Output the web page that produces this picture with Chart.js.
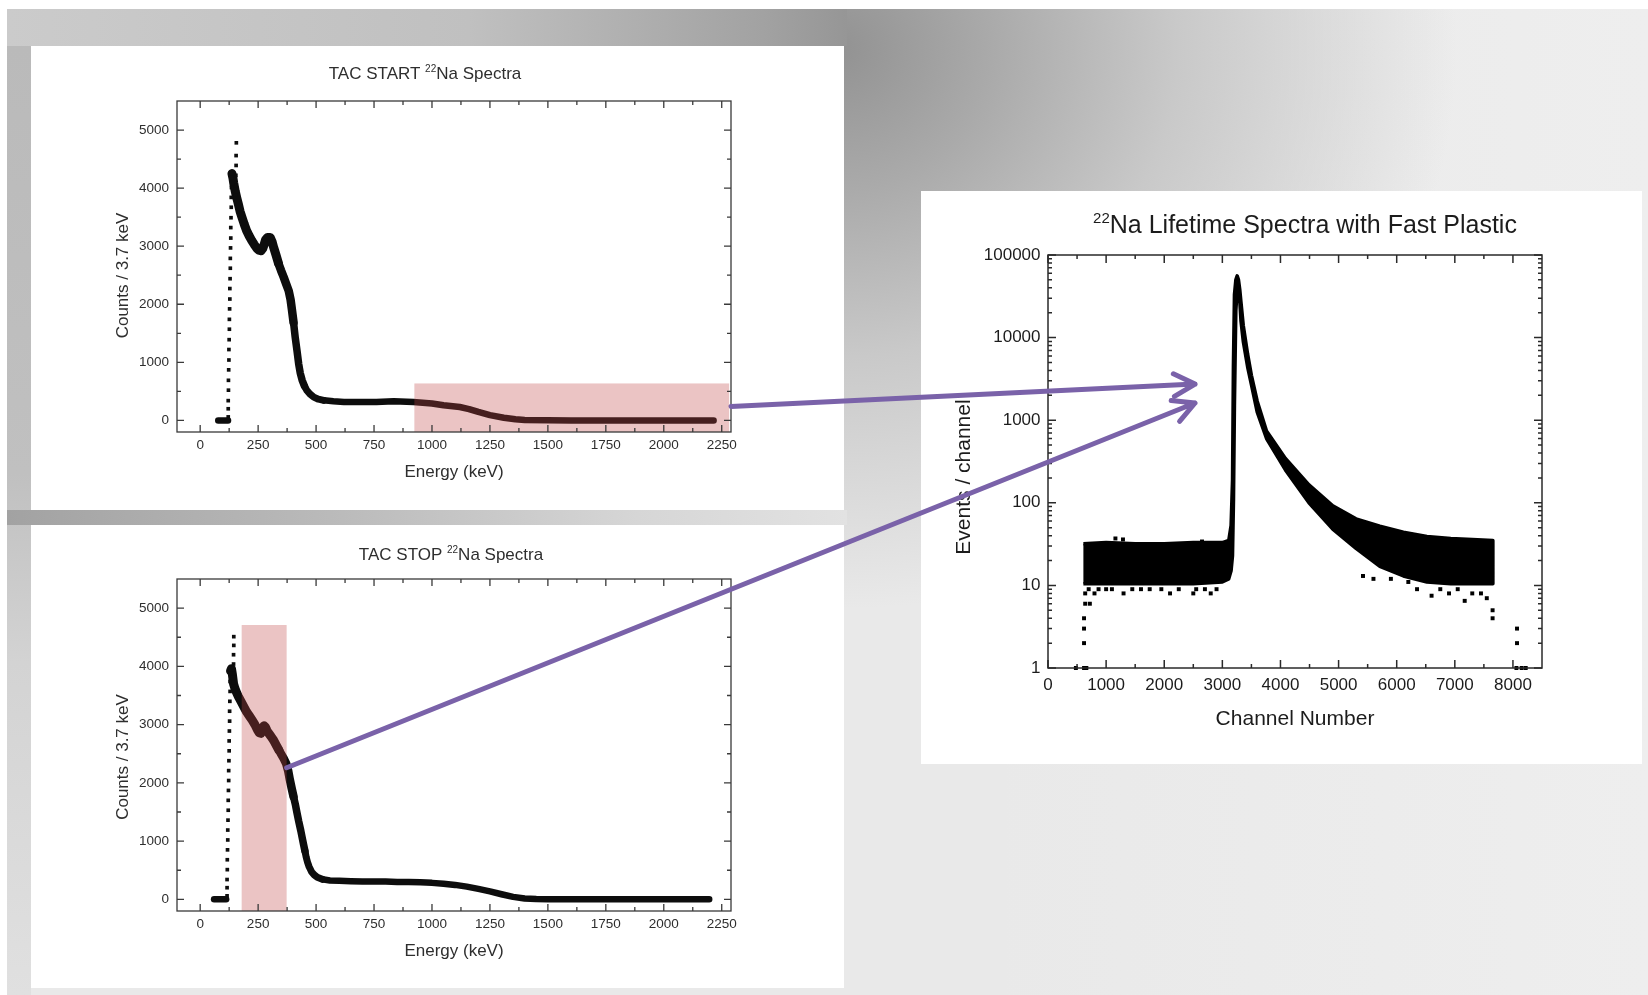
<!DOCTYPE html>
<html>
<head>
<meta charset="utf-8">
<script src="https://cdn.jsdelivr.net/npm/chart.js@4.4.1/dist/chart.umd.min.js"></script>
<style>
html,body{margin:0;padding:0;width:1648px;height:995px;overflow:hidden;background:#fff;position:relative}
.bg{position:absolute}
.panel{position:absolute;background:#fff}
canvas{display:block}
#overlay{position:absolute;left:0;top:0;pointer-events:none}
</style>
</head>
<body>
<div class="bg" style="left:7px;top:9px;width:1641px;height:986px;background:
 radial-gradient(ellipse 620px 560px at 830px 40px, #929292 0%, #aaaaaa 25%, #c9c9c9 55%, rgba(234,234,234,0) 100%),
 linear-gradient(to right, rgba(238,238,238,0) 60%, #eeeeee 100%), #e9e9e9;"></div>
<div class="bg" style="left:7px;top:9px;width:840px;height:37px;background:linear-gradient(to right,#cbcbcb 0%,#c0c0c0 55%,#a2a2a2 90%,#969696 100%);"></div>
<div class="bg" style="left:7px;top:46px;width:24px;height:949px;background:linear-gradient(to bottom,#bababa 0%,#c0c0c0 45%,#d3d3d3 65%,#e0e0e0 100%);"></div>
<div class="bg" style="left:7px;top:510px;width:840px;height:15px;background:linear-gradient(to right,#a2a2a2 0%,#bbbbbb 40%,#d6d6d6 75%,#e2e2e2 100%);"></div>

<div class="panel" id="pStart" style="left:31px;top:46px;width:813px;height:464px"><canvas id="cStart" width="813" height="464"></canvas></div>
<div class="panel" id="pStop" style="left:31px;top:525px;width:813px;height:463px"><canvas id="cStop" width="813" height="463"></canvas></div>
<div class="panel" id="pLife" style="left:921px;top:191px;width:721px;height:573px"><canvas id="cLife" width="721" height="573"></canvas></div>
<canvas id="overlay" width="1648" height="995"></canvas>

<script>
// ---------------- DATA ----------------
const ENERGY_MAJOR = [0,250,500,750,1000,1250,1500,1750,2000,2250];
const ENERGY_MINOR = [125,375,625,875,1125,1375,1625,1875,2125];
const COUNT_MAJOR = [0,1000,2000,3000,4000,5000];
const COUNT_MINOR = [500,1500,2500,3500,4500];
const CHANNEL_MAJOR = [0,1000,2000,3000,4000,5000,6000,7000,8000];
const CHANNEL_MINOR = [500,1500,2500,3500,4500,5500,6500,7500];
const EVENT_MAJOR = [1,10,100,1000,10000,100000];
const EVENT_MINOR = [2,3,4,5,6,7,8,9,20,30,40,50,60,70,80,90,200,300,400,500,600,700,800,900,
  2000,3000,4000,5000,6000,7000,8000,9000,20000,30000,40000,50000,60000,70000,80000,90000];

// TAC START spectrum (keV, counts)
const startFlat = [[78,0],[120,0]];
const startRise = [[121,60],[121,200],[121,340],[122,520],[122,690],[123,870],[124,1040],[124,1220],[125,1390],[126,1570],
  [126,1740],[127,1920],[128,2090],[128,2270],[129,2440],[130,2620],[130,2790],[131,2970],[132,3140],[132,3320],
  [133,3490],[134,3670],[134,3840],[135,4010],[136,4180]];
const startSpike = [[153,3880],[154,4050],[154,4220],[155,4390],[155,4560],[156,4780]];
const startMain = [[137,4250],[141,4180],[145,4080],[151,3950],[158,3830],[165,3720],[172,3600],[180,3500],[190,3380],
  [200,3270],[211,3180],[222,3100],[233,3030],[245,2960],[254,2930],[262,2920],[270,2960],[276,3030],[282,3110],
  [290,3150],[302,3150],[310,3080],[317,2980],[327,2850],[338,2700],[349,2580],[360,2470],[371,2350],[382,2230],
  [390,2080],[396,1900],[403,1680],[410,1430],[418,1190],[425,970],[432,810],[440,690],[450,590],[460,515],
  [475,450],[490,400],[510,365],[533,345],[575,330],[620,318],[700,315],[760,315],[835,330],[920,315],[1000,292],
  [1050,262],[1090,245],[1120,230],[1160,195],[1200,145],[1250,90],[1310,45],[1360,18],[1400,8],[1500,2],[1600,0],[2215,0]];
const startBoxX = [924, 2282];
const startBoxY = [-200, 636];

// TAC STOP spectrum (keV, counts)
const stopFlat = [[60,0],[112,0]];
const stopRise = [[116,60],[116,200],[116,340],[117,510],[117,680],[118,850],[119,1020],[119,1190],[120,1360],[121,1530],
  [121,1700],[122,1870],[123,2040],[123,2210],[124,2380],[125,2550],[125,2720],[126,2890],[127,3060],[127,3230],
  [128,3400],[129,3570],[129,3740],[130,3880]];
const stopSpike = [[143,3720],[143,3880],[144,4040],[144,4200],[145,4360],[145,4510]];
const stopMain = [[131,3920],[135,3960],[139,3860],[144,3700],[150,3620],[158,3540],[165,3480],[176,3400],[188,3310],
  [200,3220],[212,3150],[224,3080],[236,3000],[247,2910],[255,2860],[262,2850],[269,2920],[275,2980],[281,2960],
  [288,2900],[294,2860],[305,2800],[317,2730],[329,2640],[340,2560],[350,2490],[360,2420],[371,2330],[380,2200],
  [387,2050],[395,1900],[403,1760],[410,1640],[418,1480],[425,1340],[434,1180],[440,1060],[446,940],[452,830],
  [457,730],[463,640],[470,560],[481,470],[492,420],[505,380],[527,345],[560,325],[600,318],[650,310],[700,305],
  [750,305],[800,305],[850,300],[900,298],[950,292],[1000,283],[1050,268],[1100,248],[1150,218],[1200,180],
  [1250,138],[1300,88],[1350,42],[1400,14],[1450,4],[1500,1],[1600,0],[2196,0]];
const stopBoxX = [179, 373];
const stopBoxY = [-200, 4710];

// Lifetime spectrum (channel, events) : dense band envelope + isolated points
const lifeUpper = [[609,32],[1000,33],[1500,32],[2000,32],[2500,33],[3000,33],[3110,35],[3150,53],[3175,190],[3190,4500],
  [3208,33000],[3232,50000],[3255,56000],[3278,50000],[3300,38000],[3320,27000],[3360,14000],[3435,6300],[3500,3500],[3600,1700],
  [3760,740],[4085,345],[4490,165],[4900,92],[5300,64],[5710,52],[6115,44],[6520,39],[6930,37],[7300,36],[7655,35]];
const lifeLower = [[609,10.5],[1000,10.5],[1500,10.5],[2000,10.5],[2500,10.5],[3000,11],[3110,12],[3150,15],[3175,23],
  [3192,110],[3208,1500],[3232,21000],[3255,38000],[3280,36000],[3300,28000],[3320,16000],[3360,9000],[3435,4400],
  [3500,2700],[3600,1250],[3760,600],[4085,250],[4490,100],[4900,48],[5300,28],[5710,17],[6115,13],[6520,11],
  [6930,10.5],[7300,10.5],[7655,10.5]];
const lifePoints = [[480,1],[620,1],[660,1],[620,2],[620,3],[620,4],[640,6],[720,6],[640,8],[700,9],[800,8],[870,9],
  [1000,9],[1100,9],[1300,8],[1450,9],[1600,9],[1750,9],[1950,9],[2100,8],[2250,9],[2500,8],[2550,9],[2700,9],
  [2800,8],[2900,9],[1160,37],[1290,36],[2650,34],[5420,13],[5600,12],[5900,12],[6200,11],[6350,9],[6600,7.5],
  [6750,9],[6900,8],[7050,9],[7170,6.5],[7300,8],[7450,8],[7550,7],[7650,5],[7650,4],[8070,3],[8070,2],[8060,1],
  [8150,1],[8220,1],[6900,36],[7000,35],[7350,35]];

// arrow anchors in data units of the charts they touch
const arrowStart1 = [2290, 240];   // TAC START chart
const arrowEnd1 = [2530, 2740];    // lifetime chart
const arrowStart2 = [373, 2260];   // TAC STOP chart
const arrowEnd2 = [2530, 1615];    // lifetime chart

// ---------------- HELPERS ----------------
const FF = '"Liberation Sans", Arial, Helvetica, sans-serif';
const xy = arr => arr.map(p => ({x: p[0], y: p[1]}));

function drawParts(ctx, parts, cx, cy, size, color) {
  let total = 0;
  const fonts = parts.map(p => (p.sup ? Math.round(size * 0.6) : size) + 'px ' + FF);
  const widths = parts.map((p, i) => { ctx.font = fonts[i]; const w = ctx.measureText(p.t).width; total += w; return w; });
  let x = cx - total / 2;
  const base = cy + size * 0.36;
  ctx.fillStyle = color;
  ctx.textAlign = 'left';
  ctx.textBaseline = 'alphabetic';
  parts.forEach((p, i) => {
    ctx.font = fonts[i];
    ctx.fillText(p.t, x, p.sup ? base - size * 0.42 : base);
    x += widths[i];
  });
}

const framePlugin = {
  id: 'frame',
  afterDatasetsDraw(chart, args, o) {
    const ctx = chart.ctx, a = chart.chartArea, sx = chart.scales.x, sy = chart.scales.y;
    ctx.save();
    if (o.boxX) {
      const x0 = sx.getPixelForValue(o.boxX[0]), x1 = sx.getPixelForValue(o.boxX[1]);
      const y0 = sy.getPixelForValue(o.boxY[0]), y1 = sy.getPixelForValue(o.boxY[1]);
      ctx.fillStyle = 'rgba(192,72,72,0.32)';
      ctx.fillRect(Math.min(x0, x1), Math.min(y0, y1), Math.abs(x1 - x0), Math.abs(y1 - y0));
    }
    ctx.strokeStyle = o.color;
    ctx.lineWidth = o.lineWidth;
    ctx.strokeRect(a.left, a.top, a.right - a.left, a.bottom - a.top);
    ctx.beginPath();
    const xt = (vals, len) => vals.forEach(v => {
      const p = sx.getPixelForValue(v);
      ctx.moveTo(p, a.bottom); ctx.lineTo(p, a.bottom - len);
      ctx.moveTo(p, a.top); ctx.lineTo(p, a.top + len);
    });
    const yt = (vals, len) => vals.forEach(v => {
      const p = sy.getPixelForValue(v);
      ctx.moveTo(a.left, p); ctx.lineTo(a.left + len, p);
      ctx.moveTo(a.right, p); ctx.lineTo(a.right - len, p);
    });
    xt(o.xMajor, o.majorLen); xt(o.xMinor, o.minorLen);
    yt(o.yMajor, o.majorLen); yt(o.yMinor, o.minorLen);
    ctx.stroke();
    ctx.restore();
  },
  afterDraw(chart, args, o) {
    const ctx = chart.ctx, a = chart.chartArea;
    const mx = (a.left + a.right) / 2, my = (a.top + a.bottom) / 2;
    ctx.save();
    drawParts(ctx, o.title, mx + o.titleDx, a.top + o.titleDy, o.titleSize, o.textColor);
    drawParts(ctx, [{t: o.xTitle}], mx, a.bottom + o.xTitleDy, o.axisSize, o.textColor);
    ctx.translate(a.left + o.yTitleDx, my + o.yTitleDy);
    ctx.rotate(-Math.PI / 2);
    drawParts(ctx, [{t: o.yTitle}], 0, 0, o.axisSize, o.textColor);
    ctx.restore();
  }
};

function bandWidth(c) {
  const x = c.p0.parsed.x;
  if (x < 330) return 9;
  if (x < 400) return 8.5;
  if (x < 450) return 7.5;
  if (x < 520) return 7;
  return 6.5;
}

function energyChart(id, flat, rise, spike, main, boxX, boxY, layout) {
  const lineDs = (data) => ({type: 'scatter', data: xy(data), showLine: true, pointRadius: 0,
    borderColor: '#0d0d0d', borderWidth: 6.5, borderCapStyle: 'round', borderJoinStyle: 'round', tension: 0});
  const dotDs = (data) => ({type: 'scatter', data: xy(data), showLine: false, pointStyle: 'rect',
    pointRadius: 2.6, backgroundColor: '#0d0d0d', borderWidth: 0});
  const mainDs = lineDs(main);
  mainDs.segment = {borderWidth: bandWidth};
  return new Chart(document.getElementById(id), {
    type: 'scatter',
    data: {datasets: [lineDs(flat), dotDs(rise), dotDs(spike), mainDs]},
    options: {
      responsive: false, animation: false, events: [],
      layout: {padding: {top: layout.top, right: 113, left: 0, bottom: 0}},
      plugins: {
        legend: {display: false}, tooltip: {enabled: false}, title: {display: false},
        frame: {boxX, boxY, color: '#3a3a3a', lineWidth: 1.3,
          xMajor: ENERGY_MAJOR, xMinor: ENERGY_MINOR, yMajor: COUNT_MAJOR, yMinor: COUNT_MINOR,
          majorLen: 7, minorLen: 4, textColor: '#2e2e2e',
          title: layout.title, titleDx: layout.titleDx, titleDy: layout.titleDy, titleSize: 17,
          xTitle: 'Energy (keV)', xTitleDy: 39, yTitle: 'Counts / 3.7 keV', yTitleDx: -55, yTitleDy: layout.yTitleDy,
          axisSize: 17}
      },
      scales: {
        x: {type: 'linear', min: -100, max: 2290,
          afterFit: s => { s.height = layout.xh; },
          afterBuildTicks: s => { s.ticks = ENERGY_MAJOR.map(v => ({value: v})); },
          grid: {display: false, drawTicks: false}, border: {display: false},
          ticks: {autoSkip: false, maxRotation: 0, padding: 5, color: '#2e2e2e',
            font: {family: FF, size: 13.5}, callback: v => String(v)}},
        y: {type: 'linear', min: -200, max: 5500,
          afterFit: s => { s.width = 146; },
          afterBuildTicks: s => { s.ticks = COUNT_MAJOR.map(v => ({value: v})); },
          grid: {display: false, drawTicks: false}, border: {display: false},
          ticks: {autoSkip: false, padding: 8, color: '#2e2e2e',
            font: {family: FF, size: 13.5}, callback: v => String(v)}}
      }
    },
    plugins: [framePlugin]
  });
}

const chStart = energyChart('cStart', startFlat, startRise, startSpike, startMain, startBoxX, startBoxY,
  {top: 55, xh: 78, titleDx: -29, titleDy: -28, yTitleDy: 9,
   title: [{t: 'TAC START '}, {t: '22', sup: true}, {t: 'Na Spectra'}]});
const chStop = energyChart('cStop', stopFlat, stopRise, stopSpike, stopMain, stopBoxX, stopBoxY,
  {top: 54, xh: 77, titleDx: -3, titleDy: -25, yTitleDy: 12,
   title: [{t: 'TAC STOP '}, {t: '22', sup: true}, {t: 'Na Spectra'}]});

const chLife = new Chart(document.getElementById('cLife'), {
  type: 'scatter',
  data: {datasets: [
    {type: 'scatter', data: xy(lifeUpper.concat(lifeLower.slice().reverse())), showLine: true, pointRadius: 0,
      borderColor: '#000', borderWidth: 3.5, borderJoinStyle: 'round', backgroundColor: '#000', fill: 'shape', tension: 0},
    {type: 'scatter', data: xy(lifePoints), showLine: false, pointStyle: 'rect', pointRadius: 2.8,
      backgroundColor: '#000', borderWidth: 0, clip: 4}
  ]},
  options: {
    responsive: false, animation: false, events: [],
    layout: {padding: {top: 64, right: 100, left: 0, bottom: 0}},
    plugins: {
      legend: {display: false}, tooltip: {enabled: false}, title: {display: false},
      frame: {color: '#2a2a2a', lineWidth: 1.5,
        xMajor: CHANNEL_MAJOR, xMinor: CHANNEL_MINOR, yMajor: EVENT_MAJOR, yMinor: EVENT_MINOR,
        majorLen: 8, minorLen: 4, textColor: '#1c1c1c',
        title: [{t: '22', sup: true}, {t: 'Na Lifetime Spectra with Fast Plastic'}], titleDx: 10, titleDy: -31, titleSize: 25,
        xTitle: 'Channel Number', xTitleDy: 49, yTitle: 'Events / channel', yTitleDx: -86, yTitleDy: 15.5, axisSize: 21}
    },
    scales: {
      x: {type: 'linear', min: 0, max: 8500,
        afterFit: s => { s.height = 96; },
        afterBuildTicks: s => { s.ticks = CHANNEL_MAJOR.map(v => ({value: v})); },
        grid: {display: false, drawTicks: false}, border: {display: false},
        ticks: {autoSkip: false, maxRotation: 0, padding: 7, color: '#1c1c1c',
          font: {family: FF, size: 17}, callback: v => String(v)}},
      y: {type: 'logarithmic', min: 1, max: 100000,
        afterFit: s => { s.width = 127; },
        afterBuildTicks: s => { s.ticks = EVENT_MAJOR.map(v => ({value: v})); },
        grid: {display: false, drawTicks: false}, border: {display: false},
        ticks: {autoSkip: false, padding: 7.5, color: '#1c1c1c',
          font: {family: FF, size: 17}, callback: v => String(v)}}
    }
  },
  plugins: [framePlugin]
});

// ---------------- ARROWS (overlay) ----------------
function pagePt(chart, p) {
  const r = chart.canvas.getBoundingClientRect();
  return [r.left + chart.scales.x.getPixelForValue(p[0]), r.top + chart.scales.y.getPixelForValue(p[1])];
}
function arrow(ctx, a, b) {
  ctx.beginPath();
  ctx.moveTo(a[0], a[1]); ctx.lineTo(b[0], b[1]);
  const ang = Math.atan2(b[1] - a[1], b[0] - a[0]);
  const L = 24, w = 0.49;
  ctx.moveTo(b[0] - L * Math.cos(ang - w), b[1] - L * Math.sin(ang - w));
  ctx.lineTo(b[0], b[1]);
  ctx.lineTo(b[0] - L * Math.cos(ang + w), b[1] - L * Math.sin(ang + w));
  ctx.stroke();
}
const ov = document.getElementById('overlay').getContext('2d');
ov.strokeStyle = '#7a62a9';
ov.lineWidth = 5;
ov.lineCap = 'round';
ov.lineJoin = 'round';
arrow(ov, pagePt(chStart, arrowStart1), pagePt(chLife, arrowEnd1));
arrow(ov, pagePt(chStop, arrowStart2), pagePt(chLife, arrowEnd2));
</script>
</body>
</html>
